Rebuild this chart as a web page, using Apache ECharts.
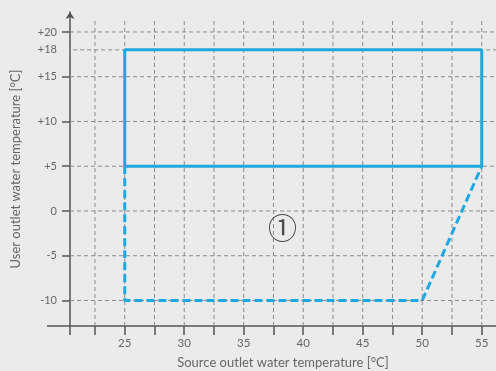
<!DOCTYPE html>
<html>
<head>
<meta charset="utf-8">
<script src="https://cdn.jsdelivr.net/npm/echarts@6/dist/echarts.min.js"></script>
<style>
  html, body { margin: 0; padding: 0; background: #ebebec; }
  #chart { width: 496px; height: 371px; }
</style>
</head>
<body>
<div id="chart"></div>
<script>
// Operating envelope: source outlet vs user outlet water temperature
const xTickValues = [22.5, 25, 27.5, 30, 32.5, 35, 37.5, 40, 42.5, 45, 47.5, 50, 52.5, 55];
const xLabelValues = [25, 30, 35, 40, 45, 50, 55];
const yTickValues = [-10, -5, 0, 5, 10, 15, 20];
const yLabelValues = [-10, -5, 0, 5, 10, 15, 18, 20];
const yExtraGrid = [18];

// Continuous operating area (solid) and extended area (dashed)
const envelopeSolid = [[25, 5], [25, 18], [55, 18], [55, 5], [25, 5]];
const envelopeDashed = [[25, 5], [25, -10], [50, -10], [55, 5]];

const zoneLabel = '①';
const zoneLabelAt = [38.25, -1.95];

// Axis ranges
const X_MIN = 20.4, X_MAX = 56.2;
const Y_MIN = -12.85, Y_MAX = 22.23;
const GRID_TOP_VALUE = 21.55;   // where the vertical dashed grid stops
const EXTRA_GRID_FROM = 18.9;   // the +18 guide starts left of the axis

const FONT = 'Lato';
const AXIS_COLOR = '#555';
const GRID_COLOR = '#8c8c8c';
const BLUE = '#1fa8e0';

const gridStyle = { color: GRID_COLOR, width: 1, type: [4, 3] };

const gridSeries = [];
xTickValues.forEach(function (x) {
  gridSeries.push({
    type: 'line', silent: true, symbol: 'none', clip: false, z: 1,
    lineStyle: gridStyle,
    data: [[x, Y_MIN], [x, GRID_TOP_VALUE]]
  });
});
yTickValues.forEach(function (y) {
  gridSeries.push({
    type: 'line', silent: true, symbol: 'none', clip: false, z: 1,
    lineStyle: gridStyle,
    data: [[X_MIN, y], [X_MAX, y]]
  });
});
yExtraGrid.forEach(function (y) {
  gridSeries.push({
    type: 'line', silent: true, symbol: 'none', clip: false, z: 1,
    lineStyle: gridStyle,
    data: [[EXTRA_GRID_FROM, y], [X_MAX, y]]
  });
});

const chart = echarts.init(document.getElementById('chart'), null, { renderer: 'canvas' });

chart.setOption({
  backgroundColor: '#ebebec',
  animation: false,
  textStyle: { fontFamily: FONT },
  grid: { left: 70, right: 0, top: 12, bottom: 45, containLabel: false, outerBoundsMode: 'none' },
  xAxis: {
    type: 'value', min: X_MIN, max: X_MAX,
    name: 'Source outlet water temperature [°C]',
    nameLocation: 'middle', nameGap: 30,
    nameTextStyle: { color: '#666', fontSize: 13, fontFamily: FONT },
    axisLine: { show: true, onZero: false, lineStyle: { color: AXIS_COLOR, width: 1.5 } },
    axisTick: { show: true, inside: false, length: 9, customValues: xTickValues,
                lineStyle: { color: AXIS_COLOR, width: 1.5 } },
    axisLabel: { customValues: xLabelValues, margin: 11, color: '#666', fontSize: 11.5, fontFamily: FONT },
    splitLine: { show: false }
  },
  yAxis: {
    type: 'value', min: Y_MIN, max: Y_MAX,
    name: 'User outlet water temperature [°C]',
    nameLocation: 'middle', nameGap: 48, nameRotate: 90,
    nameTextStyle: { color: '#666', fontSize: 13, fontFamily: FONT },
    axisLine: { show: true, onZero: false, symbol: ['none', 'arrow'], symbolSize: [7, 7],
                lineStyle: { color: AXIS_COLOR, width: 1.5 } },
    axisTick: { show: true, inside: false, length: 8, customValues: yTickValues,
                lineStyle: { color: AXIS_COLOR, width: 1.5 } },
    axisLabel: {
      customValues: yLabelValues, margin: 13, color: '#666', fontSize: 11, fontFamily: FONT,
      formatter: function (v) { return v > 0 ? '+' + v : String(v); }
    },
    splitLine: { show: false }
  },
  series: gridSeries.concat([
    {
      type: 'line', name: 'extended', symbol: 'none', z: 3, clip: false,
      lineStyle: { color: BLUE, width: 3, type: [8, 4] },
      data: envelopeDashed
    },
    {
      type: 'line', name: 'continuous', symbol: 'none', z: 4, clip: false,
      lineStyle: { color: BLUE, width: 3 },
      data: envelopeSolid
    },
    {
      type: 'scatter', symbolSize: 0, z: 5, silent: true,
      label: { show: true, position: 'inside', formatter: zoneLabel,
               color: '#222', fontSize: 29, fontFamily: 'Noto Sans CJK SC' },
      data: [zoneLabelAt]
    }
  ])
});

// Axis lines run slightly past the crossing point
const origin = chart.convertToPixel({ gridIndex: 0 }, [X_MIN, Y_MIN]);
chart.setOption({
  graphic: [
    { type: 'line', shape: { x1: 47, y1: origin[1], x2: origin[0], y2: origin[1] },
      style: { stroke: AXIS_COLOR, lineWidth: 1.5 }, z: 10 },
    { type: 'line', shape: { x1: origin[0], y1: origin[1], x2: origin[0], y2: origin[1] + 9 },
      style: { stroke: AXIS_COLOR, lineWidth: 1.5 }, z: 10 }
  ]
});
</script>
</body>
</html>
